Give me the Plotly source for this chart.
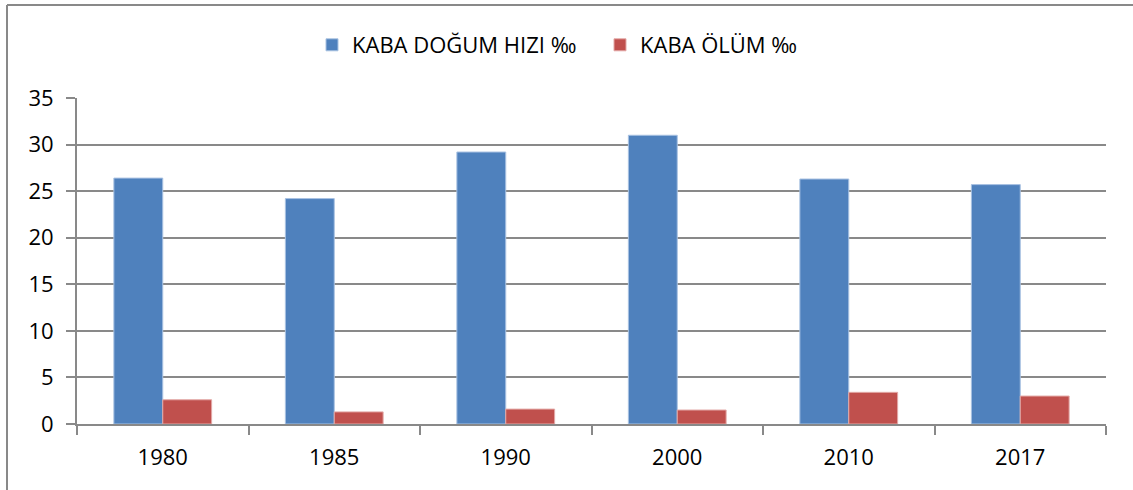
import plotly.graph_objects as go

# data
years = ['1980', '1985', '1990', '2000', '2010', '2017']
dogum = [26.4, 24.2, 29.2, 31.0, 26.3, 25.7]
olum = [2.6, 1.3, 1.6, 1.5, 3.4, 3.0]

W, H = 1133, 490
ml, mr, mt, mb = 77, 27, 98, 66
pw = W - ml - mr
ph = H - mt - mb

def px_x(x):
    return (x - ml) / pw

def px_y(y):
    return (H - mb - y) / ph

font = 'Open Sans'
grey = '#898989'

fig = go.Figure()
fig.add_trace(go.Bar(x=years, y=dogum, name='KABA DOĞUM HIZI ‰',
                     marker=dict(color='#4F81BD', line=dict(color='#A9C2E2', width=1))))
fig.add_trace(go.Bar(x=years, y=olum, name='KABA ÖLÜM ‰',
                     marker=dict(color='#C0504D', line=dict(color='#E3A9A7', width=1))))

fig.update_layout(
    width=W, height=H,
    margin=dict(l=ml, r=mr, t=mt, b=mb, autoexpand=False),
    paper_bgcolor='white', plot_bgcolor='white',
    barmode='group', bargap=0.43, bargroupgap=0,
    font=dict(family=font, size=22, color='black'),
    legend=dict(orientation='h', x=px_x(312), xanchor='left',
                y=px_y(45), yanchor='middle',
                font=dict(family=font, size=22, color='black'),
                itemwidth=30, entrywidth=243, traceorder='normal'),
    shapes=[dict(type='line', xref='paper', yref='paper',
                 x0=px_x(7), x1=px_x(W + 10), y0=px_y(5), y1=px_y(5),
                 line=dict(color=grey, width=2)),
            dict(type='line', xref='paper', yref='paper',
                 x0=px_x(7), x1=px_x(7), y0=px_y(5), y1=px_y(H + 10),
                 line=dict(color=grey, width=2))],
)

fig.update_yaxes(range=[0, 35], dtick=5, showgrid=True, gridcolor=grey, gridwidth=2,
                 showline=True, linecolor=grey, linewidth=2,
                 ticks='outside', ticklen=9, tickcolor=grey, tickwidth=2,
                 ticklabelstandoff=8, zeroline=False,
                 tickfont=dict(family=font, size=22))
fig.update_xaxes(showline=True, linecolor=grey, linewidth=2,
                 ticks='outside', tickson='boundaries', ticklen=9, tickcolor=grey, tickwidth=2,
                 ticklabelstandoff=13,
                 tickfont=dict(family=font, size=22))

fig.write_html("out.html", config={'displayModeBar': False},
               post_script="document.body.style.margin='0';")
